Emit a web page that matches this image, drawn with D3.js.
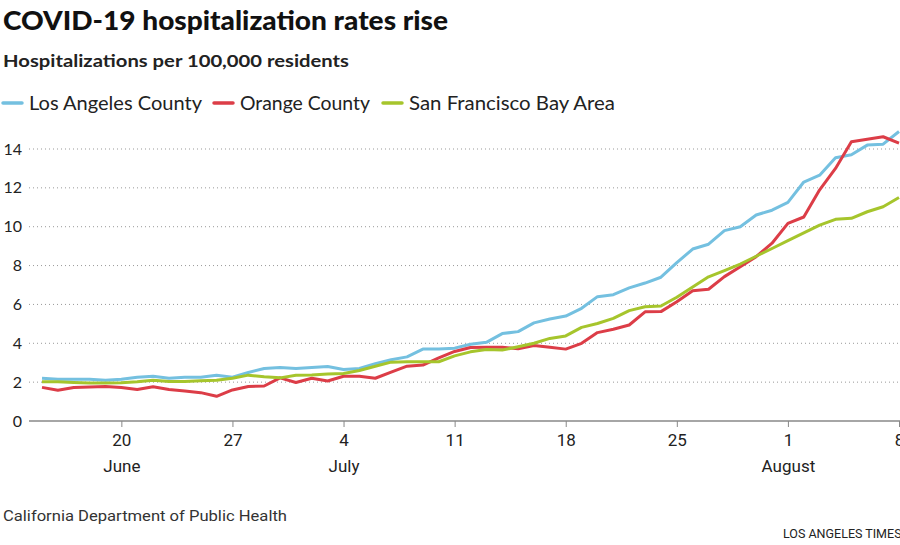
<!DOCTYPE html>
<html>
<head>
<meta charset="utf-8">
<script src="https://cdn.jsdelivr.net/npm/d3@7"></script>
<style>
  body { margin: 0; background: #fff; }
  svg { display: block; }
</style>
</head>
<body>
<div id="vis-container"></div>
<script>
// daily values, June 15 -> Aug 8
var startDate = new Date(2020, 5, 15);
var seriesNames = ["Los Angeles County", "Orange County", "San Francisco Bay Area"];
var seriesColors = ["#74c0e0", "#dc3d47", "#a6c52c"];
var laValues = [2.2, 2.15, 2.15, 2.15, 2.1, 2.15, 2.25, 2.3, 2.2, 2.25, 2.25, 2.35, 2.25, 2.5, 2.7,
  2.75, 2.7, 2.75, 2.8, 2.65, 2.7, 2.95, 3.15, 3.3, 3.7, 3.7, 3.75, 3.95, 4.05, 4.5, 4.6, 5.05, 5.25,
  5.4, 5.8, 6.4, 6.5, 6.85, 7.1, 7.4, 8.15, 8.85, 9.1, 9.8, 10.0, 10.6, 10.85, 11.25, 12.3, 12.65,
  13.55, 13.7, 14.2, 14.25, 14.9];
var ocValues = [1.73, 1.58, 1.72, 1.75, 1.78, 1.73, 1.62, 1.76, 1.62, 1.55, 1.46, 1.27, 1.6, 1.78, 1.8,
  2.22, 1.98, 2.2, 2.06, 2.3, 2.3, 2.2, 2.52, 2.82, 2.88, 3.25, 3.58, 3.78, 3.8, 3.8, 3.72, 3.88, 3.8,
  3.7, 4.0, 4.55, 4.72, 4.94, 5.62, 5.63, 6.14, 6.7, 6.78, 7.43, 7.94, 8.46, 9.15, 10.17, 10.5, 11.9,
  13.0, 14.37, 14.5, 14.63, 14.3];
var sfValues = [2.02, 2.02, 1.98, 1.95, 1.95, 1.97, 2.02, 2.1, 2.03, 2.03, 2.07, 2.1, 2.2, 2.36, 2.28,
  2.22, 2.35, 2.37, 2.42, 2.45, 2.6, 2.82, 3.03, 3.05, 3.05, 3.05, 3.35, 3.56, 3.68, 3.65, 3.82, 4.0,
  4.25, 4.38, 4.82, 5.02, 5.28, 5.68, 5.88, 5.92, 6.37, 6.9, 7.42, 7.74, 8.08, 8.48, 8.88, 9.28, 9.68,
  10.08, 10.38, 10.43, 10.77, 11.03, 11.5];
var yTicks = [0, 2, 4, 6, 8, 10, 12, 14];
var xTickDates = [new Date(2020, 5, 20), new Date(2020, 5, 27), new Date(2020, 6, 4), new Date(2020, 6, 11),
  new Date(2020, 6, 18), new Date(2020, 6, 25), new Date(2020, 7, 1), new Date(2020, 7, 8)];
var monthLabels = {"2020-5-20": "June", "2020-6-4": "July", "2020-7-1": "August"};

var allSeries = [laValues, ocValues, sfValues];
function dayDate(i) { return d3.timeDay.offset(startDate, i); }

var width = 900, height = 545;
var svg = d3.select("#vis-container").append("svg")
    .attr("width", width).attr("height", height);

var xScale = d3.scaleTime()
    .domain([startDate, dayDate(54)])
    .range([42, 899]);
var yScale = d3.scaleLinear()
    .domain([0, 14])
    .range([421, 149]);

var baseFont = "Lato, 'Noto Sans', sans-serif";

// title + subtitle
svg.append("text")
    .attr("x", 3).attr("y", 30)
    .attr("textLength", 445).attr("lengthAdjust", "spacingAndGlyphs")
    .style("font-family", baseFont)
    .style("font-weight", 900)
    .style("font-size", "27px")
    .style("fill", "#111")
    .text("COVID-19 hospitalization rates rise");
svg.append("text")
    .attr("x", 3).attr("y", 67)
    .attr("textLength", 346).attr("lengthAdjust", "spacingAndGlyphs")
    .style("font-family", baseFont)
    .style("font-weight", 700)
    .style("font-size", "17.5px")
    .style("fill", "#222")
    .text("Hospitalizations per 100,000 residents");

// legend
var legendX = [3, 214, 383];
var legendLen = [173, 130, 206];
var legend = svg.selectAll(".legend").data(seriesNames).enter()
  .append("g").attr("class", "legend")
    .attr("transform", function(d, i) { return "translate(" + legendX[i] + ",103)"; });
legend.append("line")
    .attr("x1", 0).attr("x2", 19)
    .attr("stroke", function(d, i) { return seriesColors[i]; })
    .attr("stroke-width", 3.5)
    .attr("stroke-linecap", "round");
legend.append("text")
    .attr("x", 26).attr("dy", "0.36em")
    .attr("textLength", function(d, i) { return legendLen[i]; })
    .attr("lengthAdjust", "spacingAndGlyphs")
    .style("font-family", baseFont)
    .style("font-size", "18.5px")
    .style("fill", "#222")
    .text(function(d) { return d; });

// gridlines
svg.append("g").selectAll("line").data(yTicks.filter(function(d) { return d > 0; })).enter()
  .append("line")
    .attr("x1", 29).attr("x2", 900)
    .attr("y1", function(d) { return yScale(d); })
    .attr("y2", function(d) { return yScale(d); })
    .attr("stroke", "#999")
    .attr("stroke-width", 1)
    .attr("stroke-dasharray", "1,3");

// y labels
svg.append("g").selectAll("text").data(yTicks).enter()
  .append("text")
    .attr("x", 22)
    .attr("y", function(d) { return yScale(d); })
    .attr("dy", "0.35em")
    .attr("text-anchor", "end")
    .style("font-family", baseFont)
    .style("font-size", "16px")
    .style("fill", "#222")
    .text(function(d) { return d; });

// x axis
var xAxis = d3.axisBottom(xScale)
    .tickValues(xTickDates)
    .tickSize(6)
    .tickSizeOuter(0)
    .tickFormat(d3.timeFormat("%-d"));
var xg = svg.append("g")
    .attr("class", "x axis")
    .attr("transform", "translate(0,421)")
    .call(xAxis);
xg.select(".domain").remove();
xg.insert("line", ":first-child")
    .attr("x1", 29).attr("x2", 900)
    .attr("stroke", "#888").attr("stroke-width", 1.5);
xg.selectAll(".tick line").attr("stroke", "#888");
xg.selectAll(".tick text")
    .attr("y", 13)
    .style("font-family", "Roboto, sans-serif")
    .style("font-size", "17px")
    .style("fill", "#222");
xg.selectAll(".tick").append("text")
    .attr("y", 39).attr("dy", "0.71em")
    .attr("text-anchor", "middle")
    .style("font-family", "Roboto, sans-serif")
    .style("font-size", "17px")
    .style("fill", "#222")
    .text(function(d) { return monthLabels[d.getFullYear() + "-" + d.getMonth() + "-" + d.getDate()] || ""; });

// lines
var line = d3.line()
    .x(function(d, i) { return xScale(dayDate(i)); })
    .y(function(d) { return yScale(d); });
svg.append("g").selectAll("path").data(allSeries).enter()
  .append("path")
    .attr("d", line)
    .attr("fill", "none")
    .attr("stroke", function(d, i) { return seriesColors[i]; })
    .attr("stroke-width", 3)
    .attr("stroke-linejoin", "round");

// source + credit
svg.append("text")
    .attr("x", 3).attr("y", 521)
    .attr("textLength", 284).attr("lengthAdjust", "spacingAndGlyphs")
    .style("font-family", "Roboto, sans-serif")
    .style("font-size", "15.5px")
    .style("fill", "#333")
    .text("California Department of Public Health");
svg.append("text")
    .attr("x", 783).attr("y", 538)
    .style("font-family", "Roboto, sans-serif")
    .style("font-size", "12.5px")
    .style("fill", "#222")
    .text("LOS ANGELES TIMES");
</script>
</body>
</html>
